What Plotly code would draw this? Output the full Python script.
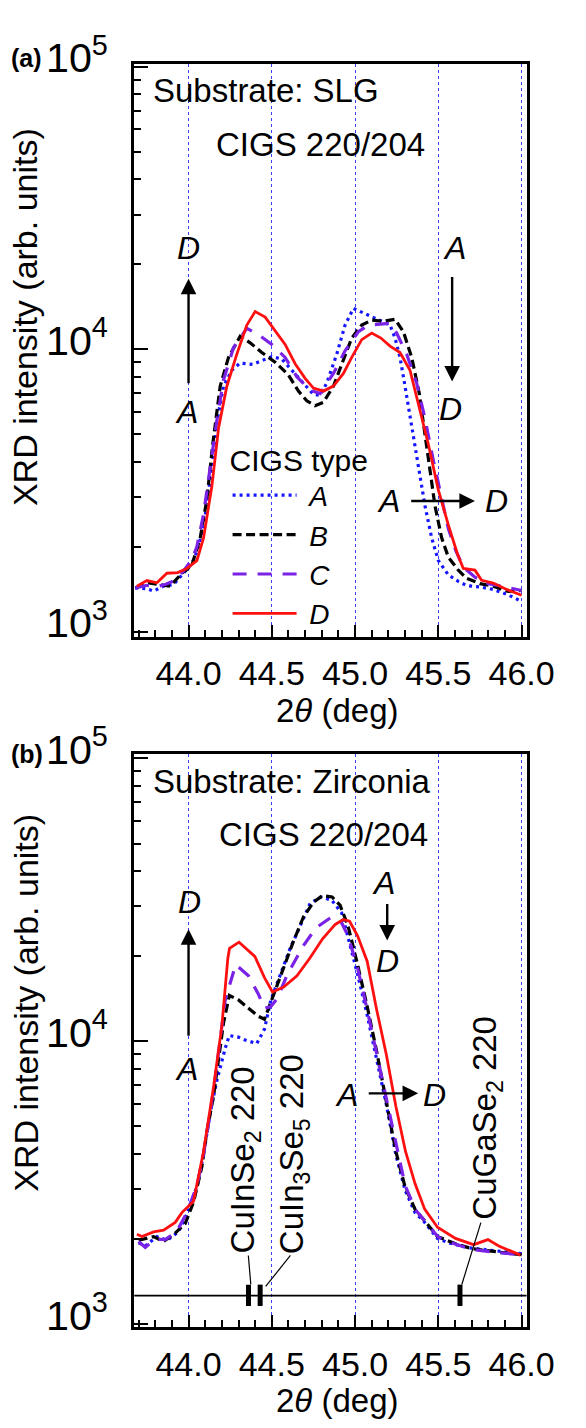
import math
import plotly.graph_objects as go

W, H = 586, 1428

# ---------------- data: panel (a) substrate SLG ----------------
a_xA = [43.68, 43.75, 43.79, 43.85, 43.91, 43.96, 44.02, 44.06, 44.10, 44.14, 44.17, 44.21, 44.26, 44.31,
        44.385, 44.44, 44.50, 44.56, 44.62, 44.67, 44.70, 44.75, 44.79, 44.83, 44.89, 44.94, 44.99, 45.06,
        45.12, 45.17, 45.21, 45.24, 45.27, 45.30, 45.33, 45.36, 45.385, 45.42, 45.46, 45.50, 45.56, 45.62,
        45.67, 45.75, 45.83, 45.92, 46.00]
a_yA = [1430, 1420, 1393, 1450, 1470, 1590, 1742, 1986, 2580, 3830, 5530, 7400, 8430, 8940,
        8840, 9120, 9420, 9240, 8430, 7790, 7400, 6920, 6870, 7590, 9610, 12180, 13960, 13360,
        12840, 12500, 12180, 10960, 9360, 7400, 5840, 4600, 3640, 2790, 2150, 1787, 1590, 1507,
        1457, 1440, 1412, 1350, 1280]

a_xB = [43.68, 43.76, 43.82, 43.89, 43.96, 44.02, 44.07, 44.11, 44.145, 44.19, 44.24, 44.31, 44.37, 44.44,
        44.52, 44.60, 44.66, 44.71, 44.76, 44.81, 44.87, 44.93, 44.98, 45.04, 45.10, 45.17, 45.24, 45.29,
        45.34, 45.385, 45.42, 45.45, 45.48, 45.52, 45.56, 45.62, 45.67, 45.75, 45.83, 45.92, 46.00]
a_yB = [1430, 1490, 1470, 1450, 1611, 1718, 2148, 2940, 4600, 7400, 9360, 11110, 10540, 9740,
        9000, 8110, 7110, 6570, 6310, 6490, 7400, 9120, 10960, 12180, 12680, 12560, 12770, 11550,
        9360, 7010, 4990, 3640, 2790, 2150, 1837, 1652, 1545, 1480, 1450, 1390, 1400]

a_xC = [43.68, 43.75, 43.80, 43.86, 43.92, 43.97, 44.02, 44.05, 44.09, 44.13, 44.17, 44.21, 44.27, 44.35,
        44.42, 44.50, 44.58, 44.65, 44.73, 44.79, 44.87, 44.94, 45.02, 45.08, 45.155, 45.21, 45.25, 45.31,
        45.37, 45.42, 45.47, 45.52, 45.56, 45.605, 45.65, 45.72, 45.80, 45.88, 46.00]
a_yC = [1430, 1460, 1440, 1470, 1520, 1640, 1800, 2000, 2600, 3900, 5600, 7790, 10140, 11860,
        11260, 10400, 9360, 8000, 7160, 6970, 8210, 9870, 11550, 12180, 12240, 12360, 11410, 9610,
        7590, 5680, 4040, 2940, 2320, 1935, 1694, 1560, 1480, 1450, 1400]

a_xD = [43.69, 43.75, 43.81, 43.87, 43.935, 43.99, 44.05, 44.09, 44.14, 44.18, 44.23, 44.29, 44.35, 44.40,
        44.46, 44.54, 44.58, 44.64, 44.70, 44.75, 44.81, 44.87, 44.93, 44.98, 45.04, 45.10, 45.155, 45.21,
        45.27, 45.33, 45.385, 45.44, 45.50, 45.56, 45.615, 45.65, 45.72, 45.76, 45.83, 45.91, 46.00]
a_yD = [1450, 1518, 1490, 1611, 1620, 1675, 1786, 2148, 3275, 5250, 7400, 9610, 12180, 13600,
        13000, 11260, 10400, 8890, 7890, 7290, 7110, 7410, 8210, 9360, 10820, 11410, 10960, 10260,
        9740, 8430, 6310, 4610, 3180, 2390, 1885, 1675, 1652, 1520, 1487, 1412, 1346]

# ---------------- data: panel (b) substrate Zirconia ----------------
b_xA = [43.70, 43.74, 43.81, 43.87, 43.94, 43.99, 44.05, 44.09, 44.13, 44.17, 44.22, 44.245, 44.30, 44.34,
        44.41, 44.456, 44.494, 44.55, 44.61, 44.67, 44.73, 44.795, 44.86, 44.92, 44.96, 45.015, 45.07,
        45.13, 45.19, 45.245, 45.30, 45.36, 45.41, 45.495, 45.56, 45.69, 45.86, 46.00]
b_yA = [1940, 1890, 2040, 1980, 2120, 2450, 3060, 3980, 5580, 7260, 9440, 10480, 10340, 10100,
        9820, 11040, 13970, 17260, 21300, 25530, 30690, 32360, 31530, 28380, 23020, 17260, 12590,
        8720, 5890, 3970, 2980, 2480, 2320, 2010, 1940, 1860, 1810, 1775]

b_xB = [43.70, 43.79, 43.85, 43.92, 43.98, 44.03, 44.08, 44.11, 44.15, 44.21, 44.245, 44.30, 44.36, 44.418,
        44.456, 44.513, 44.571, 44.628, 44.69, 44.75, 44.805, 44.862, 44.91, 44.958, 45.015, 45.073, 45.13,
        45.19, 45.245, 45.30, 45.36, 45.41, 45.495, 45.60, 45.70, 45.86, 46.00]
b_yB = [1980, 2040, 1960, 2100, 2270, 2700, 3600, 4800, 6400, 11600, 14520, 14000, 13090, 12270,
        11960, 14730, 18150, 22400, 27500, 31000, 32740, 32360, 30270, 25530, 18670, 13270, 9190,
        6050, 4080, 3060, 2550, 2350, 2040, 1930, 1850, 1800, 1760]

b_xC = [43.70, 43.74, 43.80, 43.86, 43.93, 43.99, 44.05, 44.09, 44.13, 44.17, 44.22, 44.283, 44.36, 44.418,
        44.456, 44.494, 44.533, 44.594, 44.69, 44.766, 44.852, 44.91, 44.958, 45.015, 45.073, 45.13, 45.19,
        45.25, 45.30, 45.36, 45.41, 45.50, 45.60, 45.70, 45.86, 46.00]
b_yC = [1960, 1870, 2000, 1990, 2130, 2480, 3080, 4000, 5600, 8200, 14000, 18670, 17030, 14730,
        13090, 13270, 14160, 17260, 21800, 25180, 27300, 26900, 23600, 18150, 12910, 9000, 6100,
        4150, 3100, 2550, 2350, 2030, 1920, 1840, 1790, 1760]

b_xD = [43.69, 43.72, 43.79, 43.85, 43.92, 43.96, 44.03, 44.09, 44.15, 44.20, 44.236, 44.246, 44.303, 44.398,
        44.456, 44.504, 44.571, 44.651, 44.728, 44.805, 44.881, 44.929, 44.967, 45.015, 45.073, 45.13,
        45.188, 45.245, 45.303, 45.36, 45.418, 45.495, 45.603, 45.712, 45.798, 45.863, 45.993]
b_yD = [2080, 2040, 2120, 2150, 2290, 2480, 2720, 4080, 6880, 11340, 19660, 21290, 22400, 19950,
        16790, 14930, 15550, 17030, 19660, 23020, 25880, 26920, 26560, 23600, 19140, 12910,
        8960, 5890, 4080, 3140, 2550, 2200, 2010, 1910, 1990, 1890, 1755]

# reference peak positions (bottom panel)
ref_names = ["CuInSe<sub>2</sub> 220", "CuIn<sub>3</sub>Se<sub>5</sub> 220", "CuGaSe<sub>2</sub> 220"]
ref_x = [44.36, 44.43, 45.63]
ref_y_low, ref_y_high = 1160, 1380
ref_baseline = 1262

series_names = ["A", "B", "C", "D"]
x_ticks = [44.0, 44.5, 45.0, 45.5, 46.0]

# ---------------- styles ----------------
FONT = "Liberation Sans, Arial, sans-serif"
styles = {
    "A": dict(color="#1515ff", width=3.2, dash="3px,4px"),
    "B": dict(color="#000000", width=3.2, dash="9px,4.5px"),
    "C": dict(color="#7a22e6", width=3.2, dash="14px,11px"),
    "D": dict(color="#ff1010", width=2.8, dash="solid"),
}

X0, X1 = 141, 553          # frame pixel positions
TOP = (30, 622)
BOT = (743, 1336)
YR_TOP = [2.983, 5.010]
YR_BOT = [2.99, 5.017]


def px(xp):
    return xp / W


def py(yp):
    return 1 - yp / H


fig = go.Figure()

panel_data = [
    ("x", "y", [(a_xA, a_yA), (a_xB, a_yB), (a_xC, a_yC), (a_xD, a_yD)], True),
    ("x2", "y2", [(b_xA, b_yA), (b_xB, b_yB), (b_xC, b_yC), (b_xD, b_yD)], False),
]
for xa, ya, curves, show in panel_data:
    for name, (xs, ys) in zip(series_names, curves):
        fig.add_trace(go.Scatter(
            x=xs, y=ys, mode="lines", name="\u00a0" + f"<i>{name}</i>", xaxis=xa, yaxis=ya,
            line=styles[name], showlegend=show, hoverinfo="skip"))

# reference peak bars
bx, by = [], []
for r in ref_x:
    bx += [r, r, None]
    by += [ref_y_low, ref_y_high, None]
fig.add_trace(go.Scatter(x=bx, y=by, mode="lines", xaxis="x2", yaxis="y2",
                         line=dict(color="black", width=5), showlegend=False, hoverinfo="skip"))

axis_common = dict(
    showline=True, linecolor="black", linewidth=2.5, mirror=True,
    ticks="inside", tickcolor="black", tickwidth=2.2, ticklen=14,
    zeroline=False,
)
xaxis_common = dict(
    axis_common, range=[43.674, 46.03], tickvals=x_ticks, ticktext=[f"{v:.1f}" for v in x_ticks],
    tickfont=dict(family=FONT, size=34, color="black"),
    showgrid=True, gridcolor="#3c3cff", gridwidth=1, griddash="dot",
    minor=dict(ticks="inside", ticklen=7, tickwidth=2, tickcolor="black", dtick=0.1, tick0=44.0, showgrid=False),
    ticklabelstandoff=5, ticklen=12,
)
yaxis_common = dict(
    axis_common, type="log", dtick=1, exponentformat="power", showexponent="all",
    tickfont=dict(family=FONT, size=33, color="black"),
    showgrid=False,
    minor=dict(ticks="inside", ticklen=7, tickwidth=2, tickcolor="black", dtick="D1", showgrid=False),
    ticklabelstandoff=17, ticklabelshift=-9,
)

fig.update_layout(
    width=W, height=H,
    margin=dict(l=0, r=0, t=0, b=0),
    paper_bgcolor="white", plot_bgcolor="white",
    font=dict(family=FONT, size=33, color="black"),
    xaxis=dict(xaxis_common, domain=[px(X0), px(X1)], anchor="y"),
    yaxis=dict(yaxis_common, domain=[py(TOP[1]), py(TOP[0])], range=YR_TOP, anchor="x"),
    xaxis2=dict(xaxis_common, domain=[px(X0), px(X1)], anchor="y2"),
    yaxis2=dict(yaxis_common, domain=[py(BOT[1]), py(BOT[0])], range=YR_BOT, anchor="x2"),
    legend=dict(
        x=px(239), y=py(410), xanchor="left", yanchor="top",
        bgcolor="rgba(0,0,0,0)", borderwidth=0,
        font=dict(family=FONT, size=28, color="black"),
        title=dict(text="CIGS type", font=dict(family=FONT, size=30, color="black")),
        itemwidth=64, tracegroupgap=0,
    ),
    showlegend=True,
)

# baseline for reference peaks (y given in the y2 domain fraction computed from the data value)
base_frac = (math.log10(ref_baseline) - YR_BOT[0]) / (YR_BOT[1] - YR_BOT[0])
fig.add_shape(type="line", xref="x2 domain", yref="y2 domain", x0=0, x1=1,
              y0=base_frac, y1=base_frac, line=dict(color="black", width=1.8))

ann = []


def text_paper(t, xp, yp, size=33, xanchor="center", angle=0):
    ann.append(dict(text=t, x=px(xp), y=py(yp), xref="paper", yref="paper", showarrow=False,
                    xanchor=xanchor, yanchor="middle", textangle=angle,
                    font=dict(family=FONT, size=size, color="black")))


# panel labels
text_paper("<b>(a)</b>", 28, 24, size=25)
text_paper("<b>(b)</b>", 28, 743, size=25)
# y titles
text_paper("XRD intensity (arb. units)", 27, 292, size=34, angle=-90)
text_paper("XRD intensity (arb. units)", 27, 1001, size=34, angle=-90)
# x titles
text_paper("2<i>θ</i> (deg)", 354, 698, size=33)
text_paper("2<i>θ</i> (deg)", 354, 1412, size=33)
# substrate / reflection texts
text_paper("Substrate: SLG", 159, 57, xanchor="left")
text_paper("CIGS 220/204", 337, 113)
text_paper("Substrate: Zirconia", 159, 772, xanchor="left")
text_paper("CIGS 220/204", 340, 827)
# reference peak labels (rotated)
text_paper(ref_names[0], 257, 1163, angle=-90)
text_paper(ref_names[1], 309, 1157, angle=-90)
text_paper(ref_names[2], 512, 1120, angle=-90)

# leader lines
for (x0_, y0_, x1_, y1_) in [(260.8, 1262, 263.4, 1292), (305, 1262, 279, 1294), (505, 1228, 485, 1292)]:
    fig.add_shape(type="line", xref="paper", yref="paper", x0=px(x0_), y0=py(y0_), x1=px(x1_), y1=py(y1_),
                  line=dict(color="black", width=1.2))


def italic(t, x, ylog, xr, yr):
    ann.append(dict(text=f"<i>{t}</i>", x=x, y=ylog, xref=xr, yref=yr, showarrow=False,
                    xanchor="center", yanchor="middle",
                    font=dict(family=FONT, size=32, color="black")))


def arrow(xh, yh, xr, yr, ax=0, ay=0):
    ann.append(dict(text="", x=xh, y=yh, xref=xr, yref=yr, showarrow=True,
                    ax=ax, ay=ay, axref="pixel", ayref="pixel",
                    arrowhead=2, arrowsize=1.3, arrowwidth=2.4, arrowcolor="black", standoff=0,
                    startstandoff=0))


# panel (a) arrows and labels
italic("D", 44.0, 4.36, "x", "y")
italic("A", 43.99, 3.777, "x", "y")
arrow(44.0, 4.25, "x", "y", ax=0, ay=106)
italic("A", 45.60, 4.36, "x", "y")
italic("D", 45.576, 3.789, "x", "y")
arrow(45.583, 3.886, "x", "y", ax=0, ay=-106)
italic("A", 45.20, 3.463, "x", "y")
italic("D", 45.85, 3.463, "x", "y")
ann.append(dict(text="", x=45.72, y=3.463, xref="x", yref="y", ax=45.328, ay=3.463, axref="x", ayref="y",
                showarrow=True, arrowhead=2, arrowsize=1.3, arrowwidth=2.4, arrowcolor="black"))

# panel (b) arrows and labels
italic("D", 44.006, 4.4925, "x2", "y2")
italic("A", 43.99, 3.901, "x2", "y2")
arrow(44.0, 4.396, "x2", "y2", ax=0, ay=108)
italic("A", 45.171, 4.561, "x2", "y2")
italic("D", 45.193, 4.282, "x2", "y2")
arrow(45.193, 4.356, "x2", "y2", ax=0, ay=-38)
italic("A", 44.948, 3.81, "x2", "y2")
italic("D", 45.475, 3.81, "x2", "y2")
ann.append(dict(text="", x=45.379, y=3.816, xref="x2", yref="y2", ax=45.073, ay=3.816, axref="x2", ayref="y2",
                showarrow=True, arrowhead=2, arrowsize=1.3, arrowwidth=2.4, arrowcolor="black"))

fig.update_layout(annotations=ann)

fig.write_html("out.html")
